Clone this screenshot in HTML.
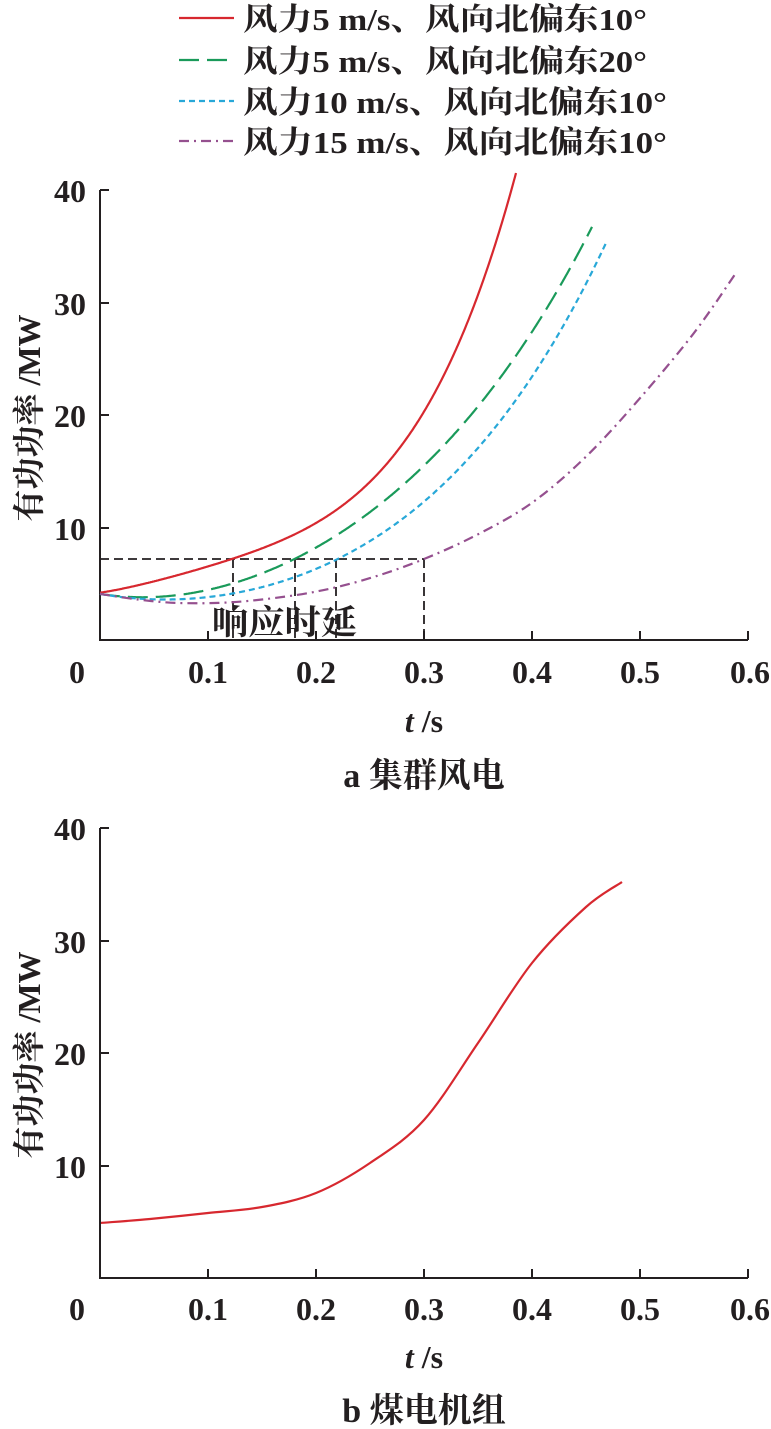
<!DOCTYPE html>
<html><head><meta charset="utf-8"><style>
html,body{margin:0;padding:0;background:#fff;}
svg{display:block;}
text{font-family:"Liberation Serif","Noto Serif CJK SC",serif;fill:#231f20;font-weight:bold;}
</style></head><body>
<svg width="771" height="1429" viewBox="0 0 771 1429" xmlns="http://www.w3.org/2000/svg">
<g stroke-width="2.2" fill="none">
<line x1="179" y1="18" x2="234" y2="18" stroke="#d7282f"/>
<line x1="179" y1="60" x2="234" y2="60" stroke="#1a9a5a" stroke-dasharray="20,8"/>
<line x1="179" y1="101" x2="234" y2="101" stroke="#28a8d8" stroke-dasharray="6,4"/>
<line x1="179" y1="141" x2="234" y2="141" stroke="#95508f" stroke-dasharray="10,5,2,5"/>
</g>
<g font-size="31">
<text x="243" y="30" textLength="404" lengthAdjust="spacingAndGlyphs">风力5 m/s、风向北偏东10°</text>
<text x="243" y="72" textLength="404" lengthAdjust="spacingAndGlyphs">风力5 m/s、风向北偏东20°</text>
<text x="243" y="113" textLength="424" lengthAdjust="spacingAndGlyphs">风力10 m/s、风向北偏东10°</text>
<text x="243" y="153" textLength="424" lengthAdjust="spacingAndGlyphs">风力15 m/s、风向北偏东10°</text>
</g>

<g stroke="#231f20" stroke-width="2" fill="none">
<polyline points="100,190 100,640 748,640"/>
<line x1="100" y1="190" x2="109" y2="190"/>
<line x1="100" y1="303" x2="109" y2="303"/>
<line x1="100" y1="415" x2="109" y2="415"/>
<line x1="100" y1="528" x2="109" y2="528"/>
<line x1="208" y1="640" x2="208" y2="631"/>
<line x1="316" y1="640" x2="316" y2="631"/>
<line x1="424" y1="640" x2="424" y2="631"/>
<line x1="532" y1="640" x2="532" y2="631"/>
<line x1="640" y1="640" x2="640" y2="631"/>
<line x1="748" y1="640" x2="748" y2="631"/>
</g>
<g stroke="#231f20" stroke-width="1.8" fill="none" stroke-dasharray="9,5">
<line x1="100" y1="559" x2="424" y2="559"/>
<line x1="233" y1="559" x2="233" y2="640"/>
<line x1="295" y1="559" x2="295" y2="640"/>
<line x1="336" y1="559" x2="336" y2="640"/>
<line x1="424" y1="559" x2="424" y2="640"/>
</g>
<text x="212" y="634" font-size="34" textLength="145" lengthAdjust="spacingAndGlyphs">响应时延</text>

<g font-size="32" text-anchor="end">
<text x="86" y="202">40</text>
<text x="86" y="315">30</text>
<text x="86" y="427">20</text>
<text x="86" y="540">10</text>
</g>
<g font-size="32" text-anchor="middle">
<text x="77" y="683">0</text>
<text x="208" y="683">0.1</text>
<text x="316" y="683">0.2</text>
<text x="424" y="683">0.3</text>
<text x="532" y="683">0.4</text>
<text x="640" y="683">0.5</text>
<text x="750" y="683">0.6</text>
</g>
<text x="424" y="732" font-size="32" text-anchor="middle"><tspan font-style="italic">t</tspan> /s</text>
<text x="424" y="787" font-size="34" text-anchor="middle">a 集群风电</text>
<text transform="translate(40,418) rotate(-90)" font-size="32" text-anchor="middle">有功功率 /MW</text>

<g fill="none" stroke-width="2.2">
<path id="r" stroke="#d7282f"/>
<path id="g" stroke="#1a9a5a" stroke-dasharray="20,8"/>
<path id="b" stroke="#28a8d8" stroke-dasharray="6,4"/>
<path id="p" stroke="#95508f" stroke-dasharray="10,5,2,5"/>
<path id="c" stroke="#d7282f"/>
</g>

<g stroke="#231f20" stroke-width="2" fill="none">
<polyline points="100,828 100,1278 748,1278"/>
<line x1="100" y1="828" x2="109" y2="828"/>
<line x1="100" y1="941" x2="109" y2="941"/>
<line x1="100" y1="1053" x2="109" y2="1053"/>
<line x1="100" y1="1166" x2="109" y2="1166"/>
<line x1="208" y1="1278" x2="208" y2="1269"/>
<line x1="316" y1="1278" x2="316" y2="1269"/>
<line x1="424" y1="1278" x2="424" y2="1269"/>
<line x1="532" y1="1278" x2="532" y2="1269"/>
<line x1="640" y1="1278" x2="640" y2="1269"/>
<line x1="748" y1="1278" x2="748" y2="1269"/>
</g>
<g font-size="32" text-anchor="end">
<text x="86" y="840">40</text>
<text x="86" y="953">30</text>
<text x="86" y="1065">20</text>
<text x="86" y="1178">10</text>
</g>
<g font-size="32" text-anchor="middle">
<text x="77" y="1320">0</text>
<text x="208" y="1320">0.1</text>
<text x="316" y="1320">0.2</text>
<text x="424" y="1320">0.3</text>
<text x="532" y="1320">0.4</text>
<text x="640" y="1320">0.5</text>
<text x="750" y="1320">0.6</text>
</g>
<text x="424" y="1368" font-size="32" text-anchor="middle"><tspan font-style="italic">t</tspan> /s</text>
<text x="424" y="1422" font-size="34" text-anchor="middle">b 煤电机组</text>
<text transform="translate(40,1055) rotate(-90)" font-size="32" text-anchor="middle">有功功率 /MW</text>
</svg>
<script>
function lag(pts,t){
  var s=0;
  for(var i=0;i<pts.length;i++){
    var l=pts[i][1];
    for(var j=0;j<pts.length;j++){ if(j!==i) l*=(t-pts[j][0])/(pts[i][0]-pts[j][0]); }
    s+=l;
  }
  return s;
}
function curve(pts,tEnd,base,scale){
  var d="";
  for(var x=100;x<=100+tEnd*1080;x+=1){
    var t=(x-100)/1080, P=lag(pts,t), y=base-scale*P;
    d+=(d?" L":"M")+x+","+y.toFixed(1);
  }
  return d;
}
function cr(pts){
  var d="M"+pts[0][0]+","+pts[0][1];
  for(var i=0;i<pts.length-1;i++){
    var p0=pts[i-1]||pts[i],p1=pts[i],p2=pts[i+1],p3=pts[i+2]||p2;
    d+=" C"+(p1[0]+(p2[0]-p0[0])/6).toFixed(1)+","+(p1[1]+(p2[1]-p0[1])/6).toFixed(1)+" "+(p2[0]-(p3[0]-p1[0])/6).toFixed(1)+","+(p2[1]-(p3[1]-p1[1])/6).toFixed(1)+" "+p2[0].toFixed(1)+","+p2[1].toFixed(1);
  }
  return d;
}
var S=11.25;
document.getElementById("r").setAttribute("d",curve([[0,4.2],[0.122,7.2],[0.2,10.4],[0.3,20.3],[0.386,41.8]],0.386,640,S));
document.getElementById("g").setAttribute("d",curve([[0,4.1],[0.04,3.8],[0.18,7.2],[0.3,15.5],[0.456,36.8]],0.456,640,S));
document.getElementById("b").setAttribute("d",curve([[0,4.1],[0.06,3.6],[0.22,7.2],[0.3,12.3],[0.47,35.6]],0.47,640,S));
var pd=[[0,4.1],[0.035,3.6],[0.07,3.3],[0.11,3.3],[0.15,3.6],[0.2,4.3],[0.25,5.5],[0.3,7.2],[0.35,9.4],[0.4,12.2],[0.45,16.3],[0.5,21.5],[0.55,27.3],[0.588,32.5]];
document.getElementById("p").setAttribute("d",cr(pd.map(function(q){return [100+q[0]*1080,640-S*q[1]];})));
document.getElementById("c").setAttribute("d",cr([[100,1223],[150,1219],[208,1213],[262,1207],[316,1193],[370,1163],[424,1120],[478,1043],[532,963],[586,907],[622,882]]));
</script>
</body></html>
